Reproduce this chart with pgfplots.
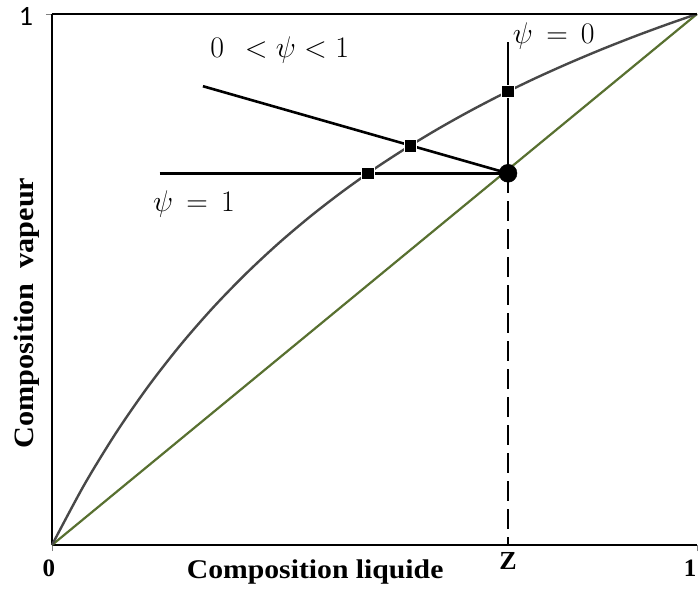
\documentclass[border=0pt]{standalone}
\usepackage{pgfplots}
\pgfplotsset{compat=1.18}
\usepackage{fontspec}
\setmainfont{Liberation Serif}
\newfontfamily\carlito{Carlito}
\definecolor{eqgray}{RGB}{72,72,72}
\definecolor{diagolive}{RGB}{88,112,48}

\begin{document}
\begin{tikzpicture}
\begin{axis}[
  scale only axis, width=645pt, height=531pt,
  at={(0,0)}, anchor=origin,
  xmin=0, xmax=1, ymin=0, ymax=1,
  axis x line=bottom, axis y line=left,
  axis line style={-, line width=2.4pt, black},
  xtick={0,1}, ytick={1},
  xticklabel=\empty, yticklabel=\empty,
  tick style={gray, line width=0.8pt},
  major tick length=6pt, tick align=outside,
  clip=false,
]
% diagonal y = x
\addplot[diagolive, line width=2.2pt] coordinates {(0,0) (1,1)};

% equilibrium curve
\addplot[eqgray, line width=2.4pt, smooth] coordinates {
  (0,0) (0.05,0.1134) (0.1,0.2126) (0.15,0.3001) (0.2,0.3779)
  (0.25,0.4475) (0.3,0.5101) (0.35,0.5668) (0.4,0.6183) (0.45,0.6653)
  (0.5,0.7085) (0.55,0.7481) (0.6,0.7847) (0.65,0.8186) (0.7,0.8501)
  (0.75,0.8794) (0.8,0.9067) (0.85,0.9323) (0.9,0.9563) (0.95,0.9788)
  (1,1)};

% feed lines
\addplot[black, line width=2.6pt] coordinates {(0.167,0.700) (0.707,0.700)};
\addplot[black, line width=2.6pt] coordinates {(0.234,0.864) (0.707,0.700)};
\addplot[black, line width=2.6pt] coordinates {(0.707,0.700) (0.707,0.947)};

% feed composition
\addplot[black, line width=1.4pt, dash pattern=on 20pt off 8pt] coordinates {(0.707,0.700) (0.707,0)};

% intersections with the equilibrium curve
\addplot[only marks, mark=square*, mark size=6.3pt,
  mark options={fill=black, draw=white, line width=0.5pt}]
  coordinates {(0.4899,0.700) (0.5557,0.7524) (0.707,0.8543)};
% feed point
\addplot[only marks, mark=*, mark size=9pt, mark options={fill=black, draw=black}]
  coordinates {(0.707,0.700)};

% top border
\draw[line width=2.4pt] (axis cs:0,1) -- (axis cs:1,1);

% tick labels
\node at (axis cs:0,0) [xshift=-3pt, yshift=-23pt] {\scalebox{2.5}{\bfseries 0}};
\node at (axis cs:1,0) [xshift=-7pt, yshift=-23pt] {\scalebox{2.5}{\bfseries 1}};
\node[font=\fontsize{26}{26}\selectfont\bfseries] at (axis cs:0.707,0) [yshift=-16pt] {Z};
\node[font=\carlito\fontsize{28}{28}\selectfont] at (axis cs:0,1) [xshift=-26pt, yshift=-2pt] {1};

% axis titles
\node at (axis cs:0.408,0) [yshift=-27pt]
  {\scalebox{1.1}[1]{\fontsize{27}{27}\selectfont\bfseries Composition liquide}};
\node at (axis cs:0,0.437) [xshift=-25pt, rotate=90]
  {\scalebox{1.08}[1]{\fontsize{28}{28}\selectfont\bfseries Composition\ \ vapeur}};

% feed-line labels
\node at (axis cs:0.220,0.642) {\scalebox{1.2}{\Huge $\psi\, = \,1$}};
\node at (axis cs:0.353,0.932) {\scalebox{1.2}{\Huge $0\ \,<\psi<1$}};
\node at (axis cs:0.778,0.959) {\scalebox{1.2}{\Huge $\psi\, = \,0$}};
\end{axis}
\pgfresetboundingbox
\path[use as bounding box] (-52pt,-45pt) rectangle (646pt,545pt);
\end{tikzpicture}
\end{document}
